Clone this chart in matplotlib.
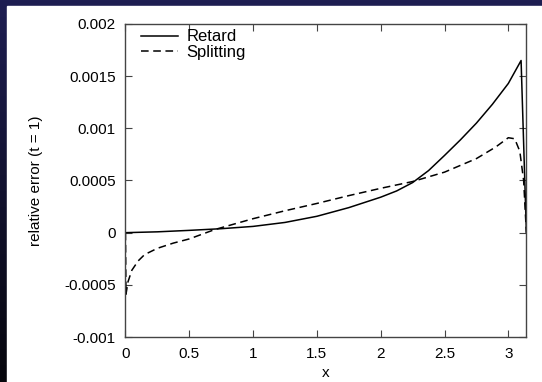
import numpy as np
import matplotlib
matplotlib.use("Agg")
import matplotlib.pyplot as plt
from matplotlib.patches import Rectangle

plt.rcParams['font.family'] = ['Liberation Sans', 'DejaVu Sans']

# data
retard_x = [0, 0.25, 0.5, 0.75, 1.0, 1.25, 1.5, 1.75, 2.0, 2.125, 2.25, 2.375,
            2.5, 2.625, 2.75, 2.875, 3.0, 3.05, 3.1, np.pi]
retard_y = [0, 0.000008, 0.000022, 0.000038, 0.00006, 0.000098, 0.000157,
            0.00024, 0.00034, 0.0004, 0.00048, 0.000595, 0.00074, 0.00089,
            0.00105, 0.00123, 0.00143, 0.00154, 0.00165, 0.0]

split_x = [0, 0.004, 0.02, 0.05, 0.1, 0.15, 0.25, 0.375, 0.5, 0.7, 1.0, 1.25,
           1.5, 1.75, 2.0, 2.25, 2.5, 2.75, 2.9, 3.0, 3.05, 3.09, 3.12, np.pi]
split_y = [0, -0.00059, -0.00047, -0.00036, -0.00027, -0.00021, -0.00015,
           -0.0001, -0.00006, 0.00003, 0.000134, 0.00021, 0.00028, 0.000355,
           0.000425, 0.00049, 0.00058, 0.00071, 0.00082, 0.00091, 0.0009,
           0.00078, 0.0005, 0.0]

x_ticks = [0, 0.5, 1, 1.5, 2, 2.5, 3]
x_labels = ["0", "0.5", "1", "1.5", "2", "2.5", "3"]
y_ticks = [-0.001, -0.0005, 0, 0.0005, 0.001, 0.0015, 0.002]
y_labels = ["-0.001", "-0.0005", "0", "0.0005", "0.001", "0.0015", "0.002"]

fig = plt.figure(figsize=(5.42, 3.82), dpi=100)

# slide background: navy fading to black, white panel on top
bg = fig.add_axes([0, 0, 1, 1])
grad = np.linspace(0, 1, 256).reshape(-1, 1)
cmap = matplotlib.colors.LinearSegmentedColormap.from_list("bg", ["#1e1e52", "#06060c"])
bg.imshow(grad, aspect="auto", cmap=cmap, extent=[0, 1, 0, 1], origin="upper")
bg.add_patch(Rectangle((7 / 542, 0), 1, (382 - 6) / 382, color="white", transform=bg.transAxes))
bg.set_xlim(0, 1)
bg.set_ylim(0, 1)
bg.axis("off")

ax = fig.add_axes([0.2315, 0.1178, 0.9712 - 0.2315, 0.9372 - 0.1178])
ax.set_facecolor("white")
ax.plot(retard_x, retard_y, color="black", lw=1.1, label="Retard")
ax.plot(split_x, split_y, color="black", lw=1.1, dashes=(5, 3), label="Splitting")

ax.set_xlim(0, np.pi)
ax.set_ylim(-0.001, 0.002)
ax.set_xticks(x_ticks)
ax.set_xticklabels(x_labels)
ax.set_yticks(y_ticks)
ax.set_yticklabels(y_labels)
ax.tick_params(direction="in", length=5, width=0.8, labelsize=11, color="#444444",
               top=True, right=True, pad=7)
for s in ax.spines.values():
    s.set_color("#444444")
    s.set_linewidth(1.0)

ax.set_xlabel("x", fontsize=11)
ax.set_ylabel("relative error (t = 1)", fontsize=11)
ax.yaxis.set_label_coords(-0.206, 0.5)
ax.xaxis.set_label_coords(0.5, -0.093)

ax.legend(loc="upper left", frameon=False, fontsize=12, handlelength=2.2,
          labelspacing=0.05, borderaxespad=0.3, handletextpad=0.5,
          bbox_to_anchor=(0.01, 1.02))

fig.savefig("out.png", dpi=100)
